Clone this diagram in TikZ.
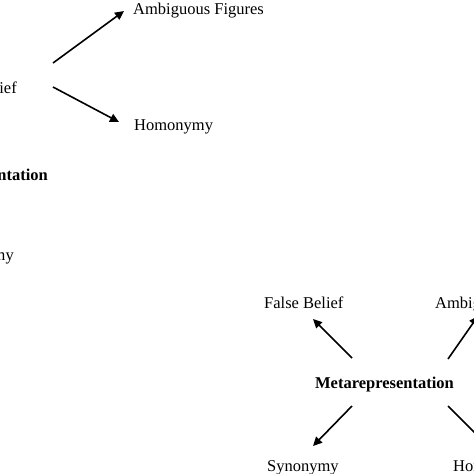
\documentclass[tikz,border=0pt]{standalone}
\usepackage{fontspec}
\setmainfont{Liberation Serif}
\usetikzlibrary{arrows.meta,positioning}

\begin{document}
\begin{tikzpicture}[
    x=1pt, y=-1pt,
    term/.style={
      inner sep=0pt,
      font=\fontsize{16.5}{19}\selectfont
    },
    hub/.style={
      inner sep=0pt,
      font=\fontsize{16.5}{19}\selectfont\bfseries
    },
    arr/.style={-{Triangle[length=9pt,width=8.5pt]}, line width=1.6pt, black},
  ]

  \useasboundingbox (0,0) rectangle (474,474);
  \clip (0,0) rectangle (474,474);

  % Upper left diagram (cut off)
  \node[term, anchor=base east] (beliefa)  at (17,93)   {False Belief};
  \node[term, anchor=base west] (ambiga)   at (133,14)  {Ambiguous Figures};
  \node[term, anchor=base west] (homona)   at (134,130) {Homonymy};
  \node[hub,  anchor=base east] (metaa)    at (48,180)  {Metarepresentation};
  \node[term, anchor=base east] (synona)   at (14,260)  {Synonymy};

  \draw[arr] ([xshift=36pt,yshift=30pt]beliefa.base east) -- ([xshift=-9pt,yshift=3pt]ambiga.base west);
  \draw[arr] ([xshift=36pt,yshift=6pt]beliefa.base east)  -- ([xshift=-15pt,yshift=8pt]homona.base west);

  % Lower right diagram
  \node[hub,  anchor=base]      (metab)   at (384.5,388) {Metarepresentation};
  \node[term, anchor=base west] (beliefb) at (264,308)   {False Belief};
  \node[term, anchor=base west] (ambigb)  at (435,308)   {Ambiguous Figures};
  \node[term, anchor=base west] (synonb)  at (267,471)   {Synonymy};
  \node[term, anchor=base west] (homonb)  at (453,471)   {Homonymy};

  \draw[arr] ([xshift=-32.5pt,yshift=30pt]metab.base)  -- ([xshift=49pt,yshift=-11pt]beliefb.base west);
  \draw[arr] ([xshift=63.5pt,yshift=29pt]metab.base)   -- ([xshift=43pt,yshift=-8pt]ambigb.base west);
  \draw[arr] ([xshift=-32.5pt,yshift=-18pt]metab.base) -- ([xshift=46pt,yshift=25pt]synonb.base west);
  \draw[arr] ([xshift=63.5pt,yshift=-18pt]metab.base)  -- ([xshift=33pt,yshift=27pt]homonb.base west);

\end{tikzpicture}
\end{document}
